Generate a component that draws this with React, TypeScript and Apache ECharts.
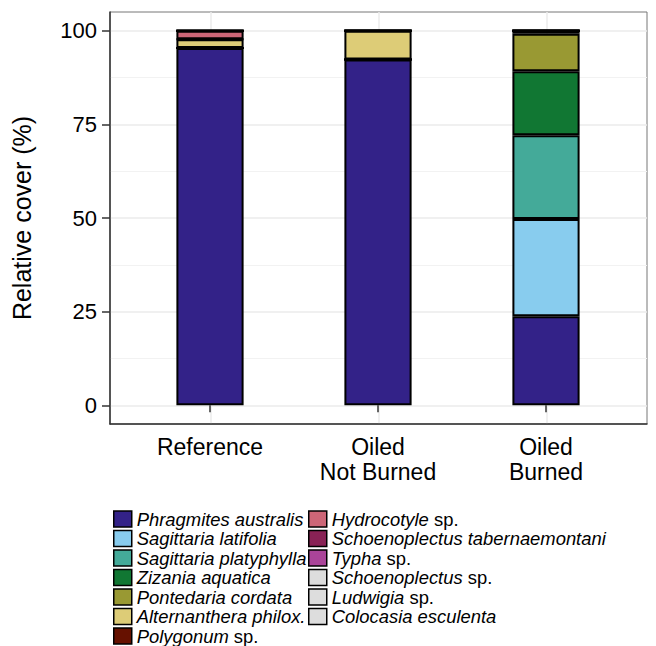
import React, { useEffect, useRef } from "react";
import * as echarts from "echarts";

const categories = ["Reference", "Oiled\nNot Burned", "Oiled\nBurned"];

const speciesNames = [
  "Phragmites australis",
  "Sagittaria latifolia",
  "Sagittaria platyphylla",
  "Zizania aquatica",
  "Pontedaria cordata",
  "Alternanthera philox.",
  "Polygonum sp.",
  "Hydrocotyle sp.",
  "Schoenoplectus tabernaemontani",
  "Typha sp.",
  "Schoenoplectus sp.",
  "Ludwigia sp.",
  "Colocasia esculenta",
];

const speciesColors = [
  "#332288",
  "#88CCEE",
  "#44AA99",
  "#117733",
  "#999933",
  "#DDCC77",
  "#661100",
  "#CC6677",
  "#882255",
  "#AA4499",
  "#DDDDDD",
  "#DDDDDD",
  "#DDDDDD",
];

// values per category: [Reference, Oiled Not Burned, Oiled Burned]
const phragmites = [95.4, 92.3, 23.8];
const sagLatifolia = [0, 0, 25.9];
const sagPlatyphylla = [0, 0, 22.4];
const zizania = [0, 0, 17.1];
const pontedaria = [0, 0, 10.0];
const alternanthera = [2.3, 7.7, 0.8];
const polygonum = [0, 0, 0];
const hydrocotyle = [2.3, 0, 0];
const schoenoTab = [0, 0, 0];
const typha = [0, 0, 0];
const schoenoSp = [0, 0, 0];
const ludwigia = [0, 0, 0];
const colocasia = [0, 0, 0];

const seriesValues = [
  phragmites,
  sagLatifolia,
  sagPlatyphylla,
  zizania,
  pontedaria,
  alternanthera,
  polygonum,
  hydrocotyle,
  schoenoTab,
  typha,
  schoenoSp,
  ludwigia,
  colocasia,
];

const yTicks = [0, 25, 50, 75, 100];
const yMinorTicks = [12.5, 37.5, 62.5, 87.5];
const xCenters = [1, 2, 3];

const FONT = "Liberation Sans, Arial, sans-serif";

function legendFormatter(name: string) {
  if (name.endsWith(" sp.")) {
    return `{i|${name.slice(0, -4)}} sp.`;
  }
  return `{i|${name}}`;
}

export default function App() {
  const ref = useRef<HTMLDivElement>(null);
  useEffect(() => {
    if (!ref.current) return;
    const chart = echarts.init(ref.current, undefined, { renderer: "svg" });
    const legendText = {
      fontSize: 18.4,
      color: "#000",
      fontFamily: FONT,
      lineHeight: 16,
      rich: {
        i: { fontStyle: "italic", fontSize: 18.4, color: "#000", fontFamily: FONT, lineHeight: 16 },
      },
    };
    const legendCommon = {
      orient: "vertical",
      itemWidth: 18,
      itemHeight: 16,
      itemGap: 1.5,
      icon: "rect",
      selectedMode: false,
      itemStyle: { borderColor: "#000", borderWidth: 1.5 },
      textStyle: legendText,
      formatter: legendFormatter,
      padding: 0,
      height: 200,
    };
    const option: any = {
      animation: false,
      backgroundColor: "#fff",
      grid: [
        { left: 110, right: 9, top: 12, bottom: 222, show: true, borderColor: "#777", borderWidth: 1 },
        { left: 126, right: 26, top: 12, bottom: 222 },
      ],
      xAxis: [
        {
          gridIndex: 0,
          type: "value",
          min: 0.4,
          max: 3.6,
          axisLine: { show: true, onZero: false, lineStyle: { color: "#333", width: 1.5 } },
          axisLabel: { show: false },
          axisTick: { show: false, customValues: xCenters },
          splitLine: { show: true, lineStyle: { color: "#EBEBEB", width: 1.5 } },
        },
        {
          gridIndex: 1,
          type: "category",
          data: categories,
          axisLine: { show: false },
          axisTick: { show: true, alignWithLabel: true, length: 7, lineStyle: { color: "#333", width: 1.5 } },
          axisLabel: { fontSize: 23, color: "#000", margin: 10, lineHeight: 25, fontFamily: FONT },
          splitLine: { show: false },
        },
      ],
      yAxis: [
        {
          gridIndex: 0,
          type: "value",
          min: -5,
          max: 105,
          name: "Relative cover (%)",
          nameLocation: "middle",
          nameGap: 76,
          nameTextStyle: { fontSize: 25, color: "#000", fontFamily: FONT },
          axisLine: { show: true, onZero: false, lineStyle: { color: "#333", width: 1.5 } },
          axisTick: { show: true, length: 8, customValues: yTicks, lineStyle: { color: "#333", width: 1.5 } },
          axisLabel: { customValues: yTicks, fontSize: 22, color: "#000", margin: 13, fontFamily: FONT },
          splitLine: { show: true, lineStyle: { color: "#EBEBEB", width: 1.5 } },
        },
        {
          gridIndex: 0,
          type: "value",
          min: -5,
          max: 105,
          position: "left",
          axisLine: { show: false },
          axisLabel: { show: false },
          axisTick: { show: false, customValues: yMinorTicks },
          splitLine: { show: true, lineStyle: { color: "#F2F2F2", width: 1 } },
        },
        { gridIndex: 1, type: "value", min: -5, max: 105, show: false },
      ],
      legend: [
        { ...legendCommon, left: 113, top: 510, data: speciesNames.slice(0, 7) },
        { ...legendCommon, left: 308, top: 510, data: speciesNames.slice(7) },
      ],
      series: speciesNames.map((name, i) => ({
        type: "bar",
        name,
        stack: "cover",
        xAxisIndex: 1,
        yAxisIndex: 2,
        barWidth: "40%",
        data: seriesValues[i],
        itemStyle: { color: speciesColors[i], borderColor: "#000", borderWidth: 2 },
      })),
    };
    chart.setOption(option);
    return () => chart.dispose();
  }, []);
  return (
    <div
      ref={ref}
      style={{ position: "absolute", left: 0, top: 0, width: 656, height: 646 }}
    />
  );
}
